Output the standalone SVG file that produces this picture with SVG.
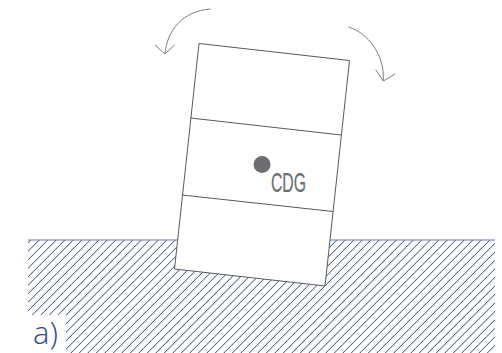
<svg xmlns="http://www.w3.org/2000/svg" width="502" height="353" viewBox="0 0 502 353">
<style>
.edge{fill:none;stroke:#59595b;stroke-width:1}
.arrow{fill:none;stroke:#808083;stroke-width:1}
</style>
<defs>
<clipPath id="groundClip"><path d="M28 240H495V353H66V315H28Z"/></clipPath>
</defs>
<rect width="502" height="353" fill="#fff"/>
<g id="ground">
<g clip-path="url(#groundClip)">
<path id="hatch" fill="none" stroke="#2f4587" stroke-width="1" d="M-10.700 281.500L39.300 231.500M-10.700 290L47.800 231.500M-10.700 298.500L56.300 231.500M-10.700 307.000L64.300 232M-10.700 315.500L72.800 232M-10.700 324.000L81.300 232M-10.700 332.500L89.800 232M-10.700 341.000L98.300 232M-10.700 349.500L106.800 232M-10.700 358.000L115.300 232M-2.200 358.000L123.800 232M6.300 358.000L132.300 232M14.800 358.000L140.800 232M23.300 358.000L149.300 232M31.800 358.000L157.800 232M40.300 358.000L166.300 232M48.800 358.000L174.800 232M57.300 358.000L183.300 232M65.800 358.000L191.800 232M74.300 358.000L200.300 232M82.800 358.000L208.800 232M91.300 358.000L217.300 232M99.800 358.000L225.800 232M108.300 358.000L234.300 232M116.800 358.000L242.800 232M125.300 358.000L251.300 232M133.800 358.000L259.800 232M142.300 358.000L268.300 232M150.800 358.000L276.800 232M159.300 358.000L285.300 232M167.800 358.000L293.800 232M176.300 358.000L302.300 232M184.800 358.000L310.800 232M193.300 358.000L319.300 232M201.800 358.000L327.800 232M210.300 358.000L336.300 232M218.800 358.000L344.800 232M227.300 358.000L353.300 232M235.800 358.000L361.800 232M244.300 358.000L370.300 232M252.800 358.000L378.800 232M261.300 358.000L387.300 232M269.800 358.000L395.800 232M278.300 358.000L404.300 232M286.800 358.000L412.800 232M295.300 358.000L421.300 232M303.800 358.000L429.800 232M312.300 358.000L438.300 232M320.800 358.000L446.800 232M329.300 358.000L455.300 232M337.800 358.000L463.800 232M346.300 358.000L472.300 232M354.800 358.000L480.800 232M363.300 358.000L489.300 232M371.800 358.000L497.800 232M380.300 358.000L506.300 232M388.800 358.000L514.800 232M397.300 358.000L523.300 232M405.800 358.000L531.800 232M414.300 358.000L540.300 232M422.800 358.000L548.800 232M431.300 358.000L557.300 232M439.800 358.000L565.800 232M448.300 358.000L574.300 232M456.800 358.000L582.800 232M465.300 358.000L591.300 232M473.800 358.000L599.800 232M482.300 358.000L608.300 232M490.800 358.000L616.800 232"/>
</g>
<path d="M28 240H495" stroke="#6f7fab" stroke-width="1.2" fill="none"/>
<text x="33" y="344" font-family="'Open Sans',sans-serif" font-weight="300" font-size="31" fill="#2f4a8a">a)</text>
</g>
<g id="block">
<path d="M199 43.500L349.500 60.500L325 286L174.500 269Z" style="fill:#fff" class="edge"/>
<path d="M190.500 118L341 135M182 195L333 211.500" class="edge"/>
</g>
<g id="cdg">
<circle cx="262" cy="164.500" r="8.500" fill="#6d6e72"/>
<text x="271" y="191.500" font-family="'Liberation Sans',sans-serif" font-size="28" fill="#6d6e72" stroke="#6d6e72" stroke-width="0.2" textLength="35" lengthAdjust="spacingAndGlyphs">CDG</text>
</g>
<g id="connectors">
<path d="M210.500 9C183 11 167 30 165 54M155 45L165 54L174.500 45" class="arrow"/>
<path d="M348.500 27C368 33 385 55 383.300 81M375.700 69.700L383.300 81L395 74" class="arrow"/>
</g>
</svg>
